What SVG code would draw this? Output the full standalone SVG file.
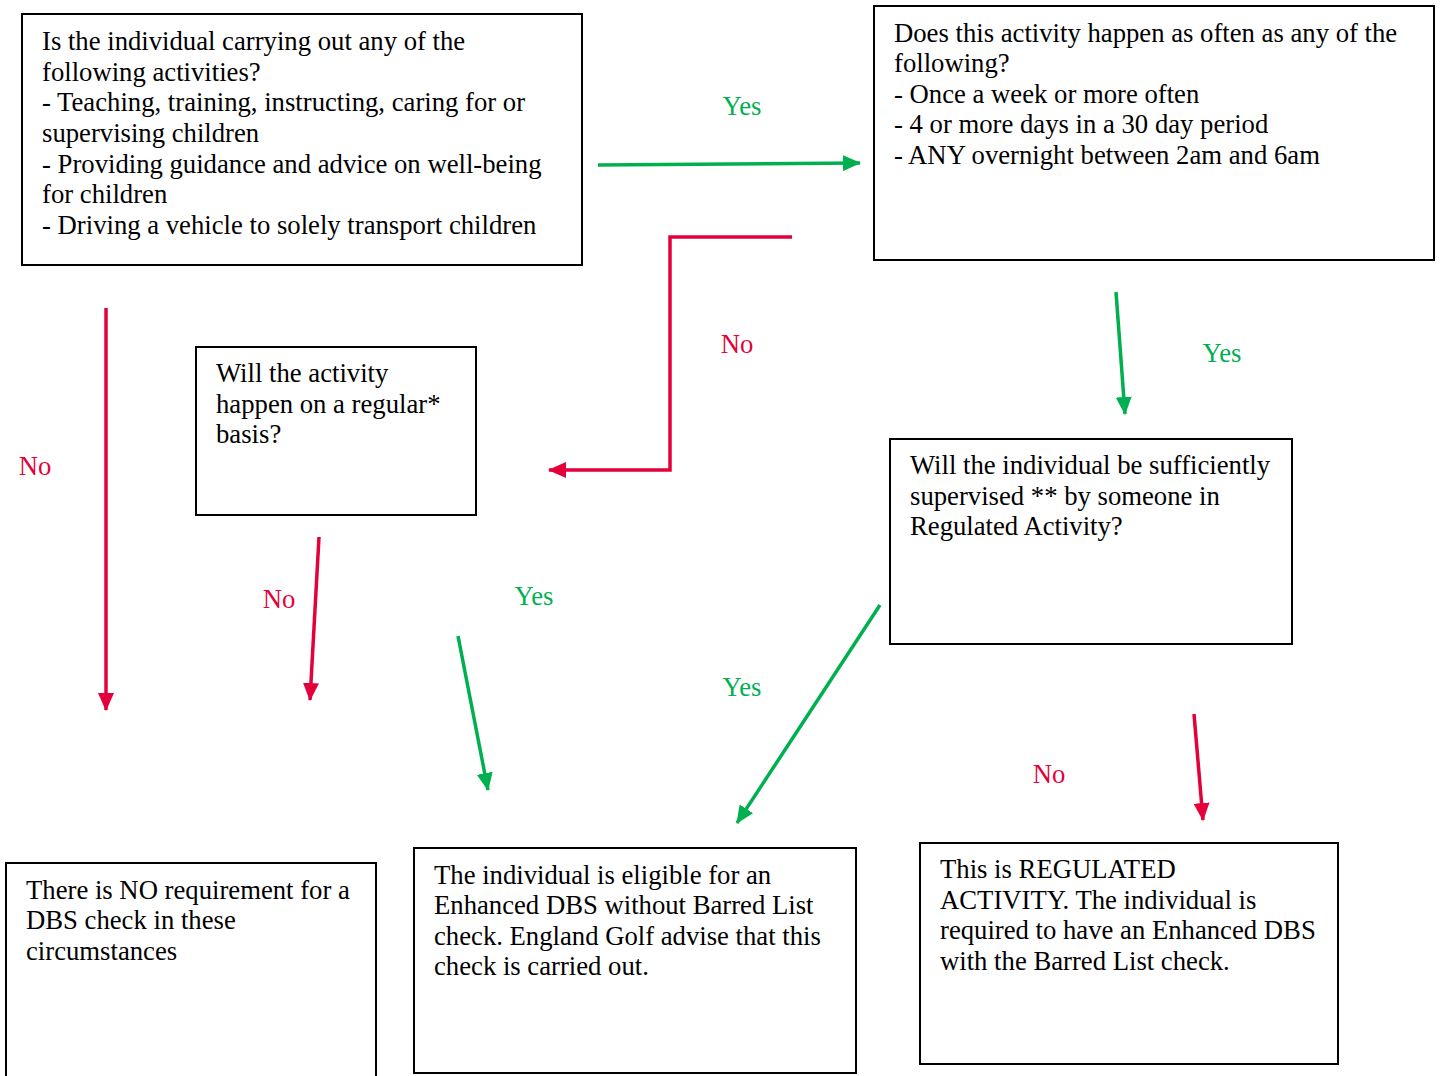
<svg xmlns="http://www.w3.org/2000/svg" width="1442" height="1076" viewBox="0 0 1442 1076">
<style>
.box{fill:#fff;stroke:#000;stroke-width:2}
text{font-family:"Liberation Serif","Times New Roman",serif;font-size:26.7px;fill:#000}
.g{stroke:#00b050;stroke-width:3.5;fill:none}
.r{stroke:#e4003a;stroke-width:3.5;fill:none}
text.gl{fill:#00b050;text-anchor:middle}
text.rl{fill:#e4003a;text-anchor:middle}
</style>
<defs>
<marker id="ag" markerUnits="userSpaceOnUse" markerWidth="18" markerHeight="16" refX="17" refY="8" orient="auto"><path d="M0,0 L18,8 L0,16 z" fill="#00b050"/></marker>
<marker id="ar" markerUnits="userSpaceOnUse" markerWidth="18" markerHeight="16" refX="17" refY="8" orient="auto"><path d="M0,0 L18,8 L0,16 z" fill="#e4003a"/></marker>
</defs>
<rect width="1442" height="1076" fill="#fff"/>
<g id="n1"><rect class="box" x="22" y="14" width="560" height="251"/>
<text x="42" y="50">Is the individual carrying out any of the</text>
<text x="42" y="81">following activities?</text>
<text x="42" y="111">- Teaching, training, instructing, caring for or</text>
<text x="42" y="142">supervising children</text>
<text x="42" y="173">- Providing guidance and advice on well-being</text>
<text x="42" y="203">for children</text>
<text x="42" y="234">- Driving a vehicle to solely transport children</text></g>
<g id="n2"><rect class="box" x="874" y="6" width="560" height="254"/>
<text x="894" y="42">Does this activity happen as often as any of the</text>
<text x="894" y="72">following?</text>
<text x="894" y="103">- Once a week or more often</text>
<text x="894" y="133">- 4 or more days in a 30 day period</text>
<text x="894" y="164">- ANY overnight between 2am and 6am</text></g>
<g id="n3"><rect class="box" x="196" y="347" width="280" height="168"/>
<text x="216" y="382">Will the activity</text>
<text x="216" y="413">happen on a regular*</text>
<text x="216" y="443">basis?</text></g>
<g id="n4"><rect class="box" x="890" y="439" width="402" height="205"/>
<text x="910" y="474">Will the individual be sufficiently</text>
<text x="910" y="505">supervised ** by someone in</text>
<text x="910" y="535">Regulated Activity?</text></g>
<g id="n5"><rect class="box" x="6" y="863" width="370" height="220"/>
<text x="26" y="899">There is NO requirement for a</text>
<text x="26" y="929">DBS check in these</text>
<text x="26" y="960">circumstances</text></g>
<g id="n6"><rect class="box" x="414" y="848" width="442" height="225"/>
<text x="434" y="884">The individual is eligible for an</text>
<text x="434" y="914">Enhanced DBS without Barred List</text>
<text x="434" y="945">check. England Golf advise that this</text>
<text x="434" y="975">check is carried out.</text></g>
<g id="n7"><rect class="box" x="920" y="843" width="418" height="221"/>
<text x="940" y="878">This is REGULATED</text>
<text x="940" y="909">ACTIVITY. The individual is</text>
<text x="940" y="939">required to have an Enhanced DBS</text>
<text x="940" y="970">with the Barred List check.</text></g>
<g id="connectors">
<line class="g" x1="598" y1="165" x2="860" y2="163" marker-end="url(#ag)"/>
<polyline class="r" points="792,237 670,237 670,470 549,470" marker-end="url(#ar)"/>
<line class="r" x1="106" y1="308" x2="106" y2="710" marker-end="url(#ar)"/>
<line class="r" x1="319" y1="537" x2="310" y2="700" marker-end="url(#ar)"/>
<line class="g" x1="458" y1="636" x2="488" y2="790" marker-end="url(#ag)"/>
<line class="g" x1="1116" y1="292" x2="1125" y2="414" marker-end="url(#ag)"/>
<line class="g" x1="880" y1="605" x2="737" y2="823" marker-end="url(#ag)"/>
<line class="r" x1="1194" y1="714" x2="1203" y2="820" marker-end="url(#ar)"/>
<text class="gl" x="742" y="115">Yes</text>
<text class="rl" x="737" y="353">No</text>
<text class="rl" x="35" y="475">No</text>
<text class="rl" x="279" y="608">No</text>
<text class="gl" x="534" y="605">Yes</text>
<text class="gl" x="1222" y="362">Yes</text>
<text class="gl" x="742" y="696">Yes</text>
<text class="rl" x="1049" y="783">No</text>
</g>
</svg>
